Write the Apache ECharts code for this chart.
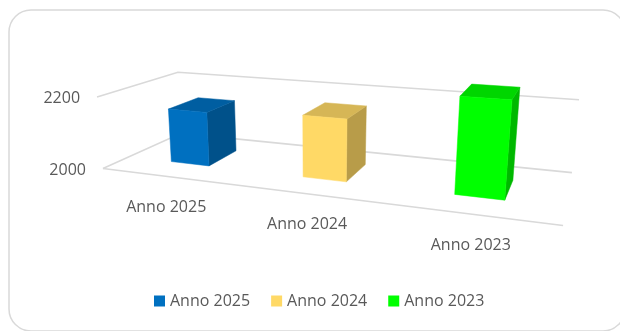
<!DOCTYPE html>
<html><head><meta charset="utf-8">
<script src="https://cdn.jsdelivr.net/npm/echarts@6/dist/echarts.min.js"></script>
<style>html,body{margin:0;padding:0;background:#fff;overflow:hidden}#c{width:620px;height:331px}</style>
</head><body><div id="c"></div><script>
// ---- data ----
const categories = ['Anno 2025', 'Anno 2024', 'Anno 2023'];
const seriesNames = ['Anno 2025', 'Anno 2024', 'Anno 2023'];
const values = [2152, 2167, 2246];
const yTicks = [2000, 2200];
const colors = ['#0070C0', '#FFD966', '#00FF00'];

// ---- layout: the 3D frame corners on screen (X along categories, Y depth, Z value 2000->0, 2200->1) ----
const FRAME_3D = [[0,0,0],[0,1,0],[1,1,0],[1,0,0],[0,0,1],[0,1,1],[1,1,1]];
const FRAME_2D = [[103,168],[181,134],[572,172],[563,226],[97,97],[178,72],[579,100]];
const BAR_W = 0.30;     // fraction of category band
const DEPTH0 = 0.30, DEPTH1 = 0.70;
const FONT = '"Open Sans", "DejaVu Sans", sans-serif';
const TXT = '#595959';

// fit a projective camera (DLT, least squares) to the frame corners
function solve(A, b) {
  const n = b.length;
  for (let i = 0; i < n; i++) {
    let m = i;
    for (let r = i + 1; r < n; r++) if (Math.abs(A[r][i]) > Math.abs(A[m][i])) m = r;
    [A[i], A[m]] = [A[m], A[i]]; [b[i], b[m]] = [b[m], b[i]];
    for (let r = i + 1; r < n; r++) {
      const f = A[r][i] / A[i][i];
      for (let c = i; c < n; c++) A[r][c] -= f * A[i][c];
      b[r] -= f * b[i];
    }
  }
  const x = new Array(n).fill(0);
  for (let i = n - 1; i >= 0; i--) {
    let s = b[i];
    for (let c = i + 1; c < n; c++) s -= A[i][c] * x[c];
    x[i] = s / A[i][i];
  }
  return x;
}
const P = (function () {
  const rows = [], rhs = [];
  FRAME_3D.forEach((q, k) => {
    const [X, Y, Z] = q, [u, v] = FRAME_2D[k];
    rows.push([X, Y, Z, 1, 0, 0, 0, 0, -u * X, -u * Y, -u * Z]); rhs.push(u);
    rows.push([0, 0, 0, 0, X, Y, Z, 1, -v * X, -v * Y, -v * Z]); rhs.push(v);
  });
  const N = 11, AtA = [], Atb = [];
  for (let i = 0; i < N; i++) {
    AtA.push(new Array(N).fill(0)); Atb.push(0);
    for (let r = 0; r < rows.length; r++) {
      Atb[i] += rows[r][i] * rhs[r];
      for (let j = 0; j < N; j++) AtA[i][j] += rows[r][i] * rows[r][j];
    }
  }
  return solve(AtA, Atb);
})();
function proj(X, Y, Z) {
  const w = P[8] * X + P[9] * Y + P[10] * Z + 1;
  return [(P[0] * X + P[1] * Y + P[2] * Z + P[3]) / w, (P[4] * X + P[5] * Y + P[6] * Z + P[7]) / w];
}
function shade(hex, f) {
  const n = parseInt(hex.slice(1), 16);
  const r = Math.round(((n >> 16) & 255) * f), g = Math.round(((n >> 8) & 255) * f), b = Math.round((n & 255) * f);
  return 'rgb(' + r + ',' + g + ',' + b + ')';
}
function zOf(api, idx, v) {
  const p = api.coord([idx, v]), b = api.coord([idx, yTicks[0]]), t = api.coord([idx, yTicks[1]]);
  return (b[1] - p[1]) / (b[1] - t[1]);
}

function gridRender(params, api) {
  const v = api.value(1);
  const Z = zOf(api, 0, v);
  const children = [{
    type: 'polyline',
    shape: { points: [proj(0, 0, Z), proj(0, 1, Z), proj(1, 1, Z)] },
    style: { stroke: '#d9d9d9', lineWidth: 1.6, fill: null }
  }];
  if (v === yTicks[0]) {
    children.push({ type: 'polyline', shape: { points: [proj(0, 0, Z), proj(1, 0, Z)] },
      style: { stroke: '#d9d9d9', lineWidth: 1.6, fill: null } });
  }
  const a = proj(0, 0, Z);
  children.push({ type: 'text', x: a[0] - 17, y: a[1] + 2,
    style: { text: String(v), fill: TXT, font: '16px ' + FONT, align: 'right', verticalAlign: 'middle' } });
  return { type: 'group', children };
}

function barRender(params, api) {
  const idx = api.value(0), v = api.value(1);
  const cs = params.coordSys;
  const p = api.coord([idx, v]);
  const Z = zOf(api, idx, v);
  const xc = (p[0] - cs.x) / cs.width;
  const hw = api.size([1, 0])[0] / cs.width * BAR_W / 2;
  const x0 = xc - hw, x1 = xc + hw, d0 = DEPTH0, d1 = DEPTH1;
  const col = api.visual('color');
  const poly = (pts, fill) => ({ type: 'polygon', shape: { points: pts.map(q => proj(q[0], q[1], q[2])) },
    style: { fill, stroke: fill, lineWidth: 0.5 } });
  const lab = proj(xc, 0, 0);
  return { type: 'group', children: [
    poly([[x1, d0, 0], [x1, d1, 0], [x1, d1, Z], [x1, d0, Z]], shade(col, 0.72)),
    poly([[x0, d0, Z], [x1, d0, Z], [x1, d1, Z], [x0, d1, Z]], shade(col, 0.84)),
    poly([[x0, d0, 0], [x1, d0, 0], [x1, d0, Z], [x0, d0, Z]], col),
    { type: 'text', x: lab[0], y: lab[1] + 31,
      style: { text: categories[idx], fill: TXT, font: '16px ' + FONT, align: 'center', verticalAlign: 'middle' } }
  ] };
}

const chart = echarts.init(document.getElementById('c'), null, { renderer: 'canvas' });
const series = [{
  type: 'custom', z: 1, silent: true, renderItem: gridRender,
  data: yTicks.map(t => [0, t])
}];
seriesNames.forEach((name, i) => {
  series.push({
    type: 'custom', name, z: 2, renderItem: barRender,
    itemStyle: { color: colors[i] },
    data: [[i, values[i]]]
  });
});
chart.setOption({
  animation: false,
  backgroundColor: '#fff',
  grid: { left: 0, right: 0, top: 0, bottom: 0, show: false },
  xAxis: { type: 'category', data: categories, show: false },
  yAxis: { type: 'value', min: 2000, max: 2400, interval: 200, show: false },
  legend: {
    data: seriesNames, left: 149, top: 286, icon: 'rect', itemWidth: 11, itemHeight: 11, itemGap: 21,
    textStyle: { color: TXT, fontSize: 16, fontFamily: FONT, lineHeight: 20 }
  },
  graphic: [{
    type: 'rect', z: -10, silent: true,
    shape: { x: 9, y: 10, width: 616, height: 321, r: 22 },
    style: { fill: '#fff', stroke: '#d9d9d9', lineWidth: 1.5 }
  }],
  series
});
</script></body></html>
